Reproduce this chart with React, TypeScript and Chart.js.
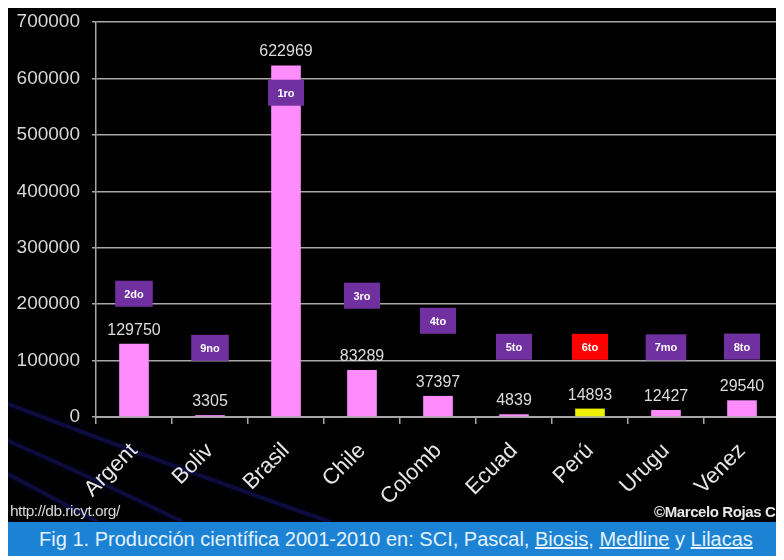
import React, { useEffect, useRef } from "react";
import { Chart, registerables } from "chart.js";

Chart.register(...registerables);

const categories = ["Argent", "Boliv", "Brasil", "Chile", "Colomb", "Ecuad", "Perú", "Urugu", "Venez"];
const values = [129750, 3305, 622969, 83289, 37397, 4839, 14893, 12427, 29540];
const rankLabels = ["2do", "9no", "1ro", "3ro", "4to", "5to", "6to", "7mo", "8to"];
const rankLevels = [218500, 122600, 574700, 215000, 170500, 124400, 124400, 123500, 124800];
const yMax = 700000;
const yStep = 100000;

const PINK = "#ff8cfc";
const YELLOW = "#eef000";
const PURPLE = "#7030a0";
const RED = "#ff0000";
const FONT = '"Liberation Sans", Arial, sans-serif';

const barColors = categories.map((c) => (c === "Perú" ? YELLOW : PINK));
const rankColors = categories.map((c) => (c === "Perú" ? RED : PURPLE));

const streakPlugin = {
  id: "streaks",
  beforeDraw(chart: any) {
    const ctx = chart.ctx;
    ctx.save();
    ctx.strokeStyle = "rgba(22,22,105,0.55)";
    ctx.lineWidth = 4;
    ctx.shadowColor = "rgba(22,22,105,0.6)";
    ctx.shadowBlur = 8;
    const curves = [
      [-2, 395, 120, 442, 322, 514],
      [-2, 432, 85, 470, 175, 514],
      [-2, 465, 45, 490, 90, 514],
    ];
    curves.forEach(([x0, y0, cx, cy, x1, y1]) => {
      ctx.beginPath();
      ctx.moveTo(x0, y0);
      ctx.quadraticCurveTo(cx, cy, x1, y1);
      ctx.stroke();
    });
    ctx.restore();
  },
};

const labelPlugin = {
  id: "valueLabels",
  afterDatasetsDraw(chart: any) {
    const ctx = chart.ctx;
    const meta = chart.getDatasetMeta(0);
    const xs = chart.scales.x;
    const ys = chart.scales.y;
    ctx.save();
    ctx.font = `16px ${FONT}`;
    ctx.fillStyle = "#dcdcdc";
    ctx.textAlign = "center";
    ctx.textBaseline = "alphabetic";
    meta.data.forEach((bar: any, i: number) => {
      ctx.fillText(String(values[i]), bar.x, bar.y - 9);
    });
    ctx.font = `bold 11px ${FONT}`;
    rankLabels.forEach((lab, i) => {
      const cx = xs.getPixelForValue(i);
      const cy = ys.getPixelForValue(rankLevels[i]);
      const w = Math.max(36, ctx.measureText(lab).width + 18);
      const h = 26;
      ctx.fillStyle = rankColors[i];
      ctx.fillRect(cx - w / 2, cy - h / 2, w, h);
      ctx.fillStyle = "#ffffff";
      ctx.textAlign = "center";
      ctx.textBaseline = "middle";
      ctx.fillText(lab, cx, cy + 1);
    });
    ctx.restore();
  },
};

export default function App() {
  const ref = useRef<HTMLCanvasElement | null>(null);

  useEffect(() => {
    if (!ref.current) return;
    const chart = new Chart(ref.current, {
      type: "bar",
      data: {
        labels: categories,
        datasets: [
          {
            data: values,
            backgroundColor: barColors,
            borderWidth: 0,
            categoryPercentage: 1,
            barPercentage: 0.39,
          },
        ],
      },
      options: {
        responsive: false,
        animation: false,
        devicePixelRatio: 1,
        layout: { padding: { top: 14, right: 4, left: 0, bottom: 0 } },
        plugins: {
          legend: { display: false },
          tooltip: { enabled: false },
        },
        scales: {
          x: {
            afterFit: (s: any) => {
              s.height = 105;
              s.paddingLeft = 0;
              s.paddingRight = 0;
            },
            grid: {
              display: true,
              drawOnChartArea: false,
              color: "#a8a8a8",
              lineWidth: 1.5,
              tickLength: 7,
              offset: true,
            },
            border: { color: "#a8a8a8", width: 2 },
            ticks: {
              color: "#e6e6e6",
              font: { family: FONT, size: 22 },
              maxRotation: 45,
              minRotation: 45,
              padding: 14,
              labelOffset: 0,
              autoSkip: false,
            },
          },
          y: {
            min: 0,
            max: yMax,
            afterFit: (s: any) => {
              s.width = 88;
              s.paddingTop = 0;
              s.paddingBottom = 0;
            },
            grid: {
              color: "#a8a8a8",
              lineWidth: 1.5,
              tickLength: 4,
            },
            border: { color: "#a8a8a8", width: 1.5 },
            ticks: {
              stepSize: yStep,
              color: "#d8d8d8",
              font: { family: FONT, size: 19 },
              padding: 12,
              callback: (v: any) => String(v),
            },
          },
        },
      },
      plugins: [streakPlugin, labelPlugin],
    });
    return () => chart.destroy();
  }, []);

  return (
    <div
      style={{
        width: 776,
        height: 548,
        position: "relative",
        background: "#000",
        fontFamily: FONT,
        overflow: "hidden",
      }}
    >
      <canvas ref={ref} width={776} height={514} style={{ display: "block", width: 776, height: 514 }} />
      <div
        style={{
          position: "absolute",
          left: 2,
          top: 494,
          fontSize: 15.5,
          color: "#d8d8d8",
          letterSpacing: -0.5,
          lineHeight: "18px",
          whiteSpace: "nowrap",
        }}
      >
        http://db.ricyt.org/
      </div>
      <div
        style={{
          position: "absolute",
          left: 646,
          top: 495,
          fontSize: 15,
          fontWeight: "bold",
          color: "#e8e8e8",
          letterSpacing: -0.4,
          lineHeight: "18px",
          whiteSpace: "nowrap",
        }}
      >
        ©Marcelo Rojas C
      </div>
      <div
        style={{
          height: 34,
          background: "#1c82d4",
          color: "#e4f2ff",
          fontSize: 20,
          lineHeight: "34px",
          textAlign: "center",
          whiteSpace: "nowrap",
        }}
      >
        Fig 1. Producción científica 2001-2010 en: SCI, Pascal, <u>Biosis</u>, <u>Medline</u> y <u>Lilacas</u>
      </div>
    </div>
  );
}
